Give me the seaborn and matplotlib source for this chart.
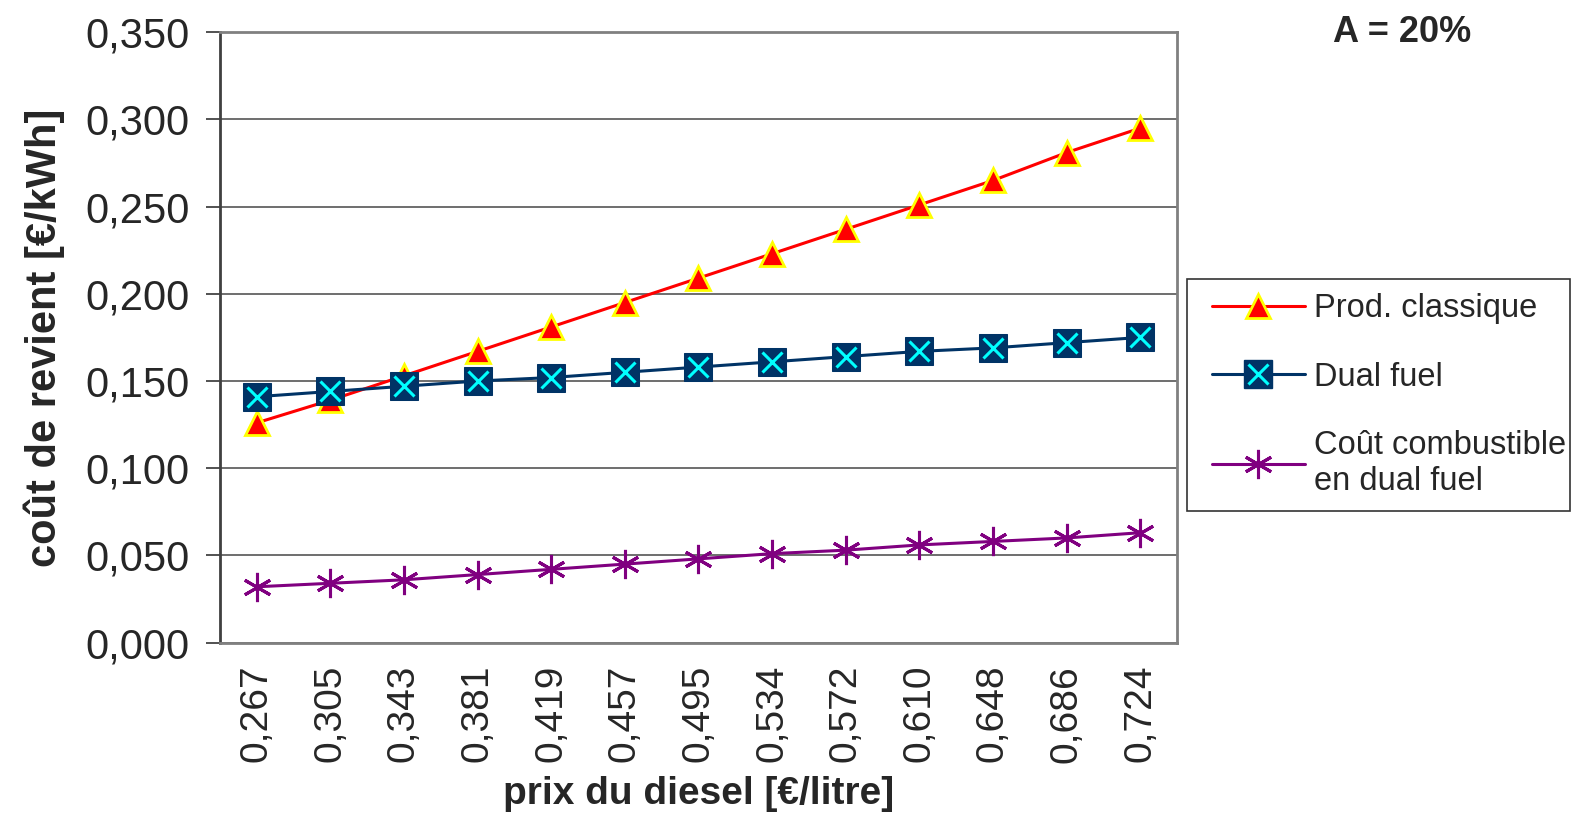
import matplotlib
matplotlib.use("Agg")
import matplotlib.pyplot as plt
import seaborn as sns
import pandas as pd
from matplotlib.lines import Line2D
from matplotlib.legend_handler import HandlerTuple, HandlerLine2D
from matplotlib.ticker import FuncFormatter, FixedLocator

# data
prix_diesel = ["0,267", "0,305", "0,343", "0,381", "0,419", "0,457", "0,495",
               "0,534", "0,572", "0,610", "0,648", "0,686", "0,724"]
prod_classique = [0.126, 0.139, 0.153, 0.167, 0.181, 0.195, 0.209,
                  0.223, 0.237, 0.251, 0.265, 0.281, 0.295]
dual_fuel = [0.141, 0.144, 0.147, 0.150, 0.152, 0.155, 0.158,
             0.161, 0.164, 0.167, 0.169, 0.172, 0.175]
cout_combustible = [0.032, 0.034, 0.036, 0.039, 0.042, 0.045, 0.048,
                    0.051, 0.053, 0.056, 0.058, 0.060, 0.063]

sns.set_style("white")
plt.rcParams["font.family"] = ["Liberation Sans", "DejaVu Sans"]

df = pd.DataFrame({
    "x": range(len(prix_diesel)),
    "prod": prod_classique,
    "dual": dual_fuel,
    "comb": cout_combustible,
})

fig = plt.figure(figsize=(15.82, 8.17), dpi=100)
ax = fig.add_axes([0.139, 0.2135, 0.605, 0.747])

red, navy, cyan, purple = "#FF0000", "#003366", "#00FFFF", "#800080"
asterisk = (6, 2, 0)

sns.lineplot(data=df, x="x", y="comb", ax=ax, color=purple, lw=2.2,
             marker=asterisk, markersize=21, markeredgecolor=purple,
             markeredgewidth=2.2, zorder=3)
sns.lineplot(data=df, x="x", y="prod", ax=ax, color=red, lw=2.2,
             marker="^", markersize=17, markerfacecolor=red,
             markeredgecolor="#FFFF00", markeredgewidth=2, zorder=4)
sns.lineplot(data=df, x="x", y="dual", ax=ax, color=navy, lw=2.2,
             marker="s", markersize=20, markerfacecolor=navy,
             markeredgecolor=navy, zorder=5)
sns.lineplot(data=df, x="x", y="dual", ax=ax, color=cyan, lw=0,
             marker="x", markersize=14, markeredgecolor=cyan,
             markeredgewidth=2.2, zorder=6)

ax.set_xlim(-0.5, len(prix_diesel) - 0.5)
ax.set_ylim(0, 0.35)
ax.set_yticks([i * 0.05 for i in range(8)])
ax.yaxis.set_major_formatter(FuncFormatter(lambda v, p: f"{v:.3f}".replace(".", ",")))
ax.set_xticks(range(len(prix_diesel)))
ax.set_xticklabels(prix_diesel, rotation=90)
ax.xaxis.set_minor_locator(FixedLocator([i - 0.5 for i in range(len(prix_diesel) + 1)]))
ax.tick_params(axis="x", which="major", length=0, pad=16, labelsize=28)
ax.tick_params(axis="x", which="minor", length=10, width=1.2, color="#333333")
ax.tick_params(axis="y", which="major", length=10, width=1.2, color="#333333",
               pad=12, labelsize=30, left=True)

ax.grid(axis="y", color="#555555", lw=1.2)
ax.set_axisbelow(True)
for s in ax.spines.values():
    s.set_color("#808080")
    s.set_linewidth(2)
ax.spines["left"].set_color("#404040")

ax.set_xlabel("prix du diesel [€/litre]", fontsize=28, fontweight="bold")
ax.set_ylabel("coût de revient [€/kWh]", fontsize=30, fontweight="bold")
ax.xaxis.set_label_coords(0.5, -0.218)
ax.yaxis.set_label_coords(-0.162, 0.5)

fig.text(0.886, 0.96, "A = 20%", fontsize=26, fontweight="bold", ha="center", va="center")

h_prod = Line2D([], [], color=red, lw=2.2, marker="^", markersize=17,
                markerfacecolor=red, markeredgecolor="#FFFF00", markeredgewidth=2)
h_dual = (Line2D([], [], color=navy, lw=2.2, marker="s", markersize=20,
                 markerfacecolor=navy, markeredgecolor=navy),
          Line2D([], [], lw=0, marker="x", markersize=14, markeredgecolor=cyan,
                 markeredgewidth=2.2))
h_comb = Line2D([], [], color=purple, lw=2.2, marker=asterisk, markersize=21,
                markeredgecolor=purple, markeredgewidth=2.2)
leg = fig.legend([h_prod, h_dual, h_comb],
                 ["Prod. classique", "Dual fuel", "Coût combustible\nen dual fuel"],
                 handler_map={Line2D: HandlerLine2D(xpad=0.35),
                              tuple: HandlerTuple(ndivide=1, pad=0, xpad=0.35)},
                 loc="upper left", bbox_to_anchor=(0.750, 0.371, 0.2425, 0.287),
                 mode="expand", fontsize=23.5,
                 frameon=True, fancybox=False, edgecolor="black",
                 handlelength=3.2, labelspacing=1.15, borderpad=0.42,
                 handletextpad=0.3, borderaxespad=0)
leg.get_frame().set_linewidth(1.2)

fig.savefig("out.png", dpi=100)
